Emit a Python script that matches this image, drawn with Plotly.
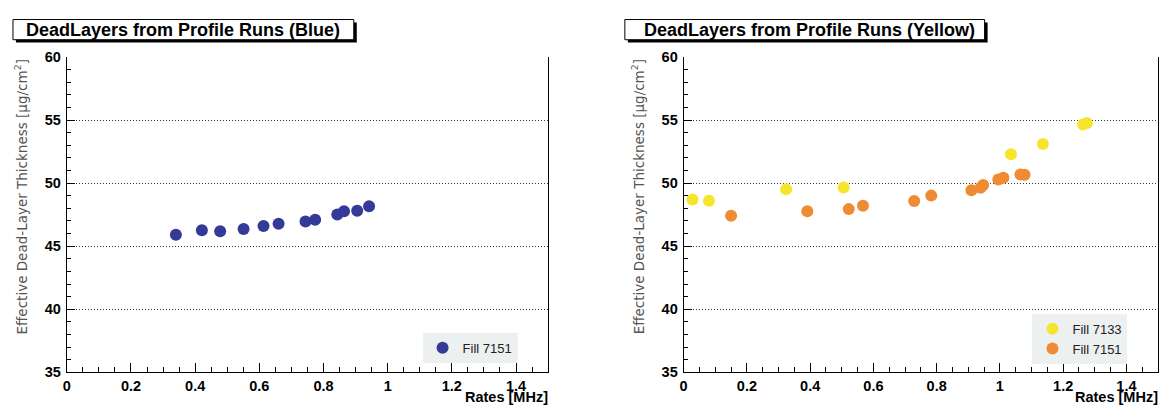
import plotly.graph_objects as go

# ---------------- data ----------------
blue_fill7151_rate = [0.340, 0.421, 0.478, 0.551, 0.613, 0.660, 0.744, 0.774, 0.843, 0.864, 0.905, 0.942]
blue_fill7151_dl = [45.91, 46.27, 46.19, 46.37, 46.60, 46.78, 46.95, 47.10, 47.52, 47.77, 47.82, 48.17]

yellow_fill7133_rate = [0.028, 0.080, 0.324, 0.506, 1.035, 1.136, 1.263, 1.275]
yellow_fill7133_dl = [48.70, 48.61, 49.52, 49.65, 52.29, 53.10, 54.65, 54.76]

yellow_fill7151_rate = [0.150, 0.391, 0.522, 0.567, 0.729, 0.783, 0.910, 0.939, 0.947, 0.995, 1.011, 1.065, 1.078]
yellow_fill7151_dl = [47.41, 47.77, 47.94, 48.20, 48.59, 49.01, 49.44, 49.63, 49.86, 50.28, 50.43, 50.69, 50.66]

x_tickvals = [0, 0.2, 0.4, 0.6, 0.8, 1.0, 1.2, 1.4]
x_ticktext = ["0", "0.2", "0.4", "0.6", "0.8", "1", "1.2", "1.4"]
y_tickvals = [35, 40, 45, 50, 55, 60]
y_ticktext = ["35", "40", "45", "50", "55", "60"]

titles = ["DeadLayers from Profile Runs (Blue)", "DeadLayers from Profile Runs (Yellow)"]
y_title = "Effective Dead-Layer Thickness [\u03bcg/cm<sup>2</sup>]"
x_title = "Rates [MHz]"

# ---------------- layout helpers ----------------
W, H = 1163, 413


def px(x):
    return x / W


def py(y):
    return 1 - y / H


BLUE = "#343a97"
YELLOW = "#f6e52c"
ORANGE = "#ef8c33"
FONT = "Liberation Sans"

fig = go.Figure()

mk = dict(size=12, line=dict(width=0))
fig.add_trace(go.Scatter(x=blue_fill7151_rate, y=blue_fill7151_dl, mode="markers",
                         name="Fill 7151", marker=dict(color=BLUE, **mk),
                         xaxis="x", yaxis="y", legend="legend"))
fig.add_trace(go.Scatter(x=yellow_fill7133_rate, y=yellow_fill7133_dl, mode="markers",
                         name="Fill 7133", marker=dict(color=YELLOW, **mk),
                         xaxis="x2", yaxis="y2", legend="legend2"))
fig.add_trace(go.Scatter(x=yellow_fill7151_rate, y=yellow_fill7151_dl, mode="markers",
                         name="Fill 7151", marker=dict(color=ORANGE, **mk),
                         xaxis="x2", yaxis="y2", legend="legend2"))

ydom = [py(379), py(51)]
xdoms = [[px(63), px(546)], [px(682), px(1158)]]

tickfont = dict(family=FONT, size=14.5, color="black", weight="bold")
bold = lambda lst: ["<b>%s</b>" % t for t in lst]


def xaxis(dom, anchor):
    return dict(domain=dom, anchor=anchor, range=[0, 1.5],
                tickvals=x_tickvals, ticktext=bold(x_ticktext),
                ticks="inside", ticklen=9, tickwidth=1, tickcolor="black",
                minor=dict(dtick=0.05, tick0=0, ticks="inside", ticklen=5, tickcolor="black", showgrid=False),
                showline=True, linecolor="black", linewidth=1,
                showgrid=False, zeroline=False, tickfont=tickfont, fixedrange=True,
                ticklabelstandoff=0)


def yaxis(anchor):
    return dict(domain=ydom, anchor=anchor, range=[35, 60],
                tickvals=y_tickvals, ticktext=bold(y_ticktext),
                ticks="inside", ticklen=8, tickwidth=1, tickcolor="black",
                minor=dict(dtick=1, tick0=35, ticks="inside", ticklen=4, tickcolor="black", showgrid=False),
                showline=True, linecolor="black", linewidth=1, mirror=True,
                showgrid=True, gridcolor="#333333", gridwidth=1, griddash="1px,2px",
                zeroline=False, tickfont=tickfont, fixedrange=True, ticklabelstandoff=2)


shapes = []
annotations = []
for i, (cx, x0, x1) in enumerate([(180, 9, 351), (808, 623, 984)]):
    # shadow
    shapes.append(dict(type="rect", xref="paper", yref="paper",
                       x0=px(x0 + 3), x1=px(x1 + 3), y0=py(36), y1=py(15),
                       fillcolor="black", line=dict(width=0), layer="above"))
    shapes.append(dict(type="rect", xref="paper", yref="paper",
                       x0=px(x0), x1=px(x1), y0=py(33), y1=py(12),
                       fillcolor="white", line=dict(color="black", width=1), layer="above"))
    annotations.append(dict(text="<b>%s</b>" % titles[i], xref="paper", yref="paper",
                            x=px(cx), y=py(23), xanchor="center", yanchor="middle",
                            showarrow=False, font=dict(family=FONT, size=18, color="black")))

for xr in [546, 1158]:
    annotations.append(dict(text="<b>%s</b>" % x_title, xref="paper", yref="paper",
                            x=px(xr + 1), y=0, xanchor="right", yanchor="bottom",
                            borderpad=0, yshift=-1,
                            showarrow=False, font=dict(family=FONT, size=14.5, color="black")))

for xc in [17, 636]:
    annotations.append(dict(text=y_title, xref="paper", yref="paper",
                            x=px(xc), y=py(51), xanchor="center", yanchor="top", textangle=-90,
                            showarrow=False, font=dict(family="DejaVu Sans", size=13.5, color="#555555")))

legend_common = dict(bgcolor="#edf0f0", borderwidth=0, xanchor="left", yanchor="top",
                     font=dict(family=FONT, size=13, color="#222222"),
                     itemsizing="trace", tracegroupgap=0, itemwidth=30)

fig.update_layout(
    width=W, height=H,
    margin=dict(l=0, r=0, t=0, b=0),
    paper_bgcolor="white", plot_bgcolor="white",
    xaxis=xaxis(xdoms[0], "y"), yaxis=yaxis("x"),
    xaxis2=xaxis(xdoms[1], "y2"), yaxis2=yaxis("x2"),
    shapes=shapes, annotations=annotations,
    legend=dict(x=px(420), y=py(338), **legend_common),
    legend2=dict(x=px(1032), y=py(318), **legend_common),
    showlegend=True,
)

fig.write_html("out.html")
